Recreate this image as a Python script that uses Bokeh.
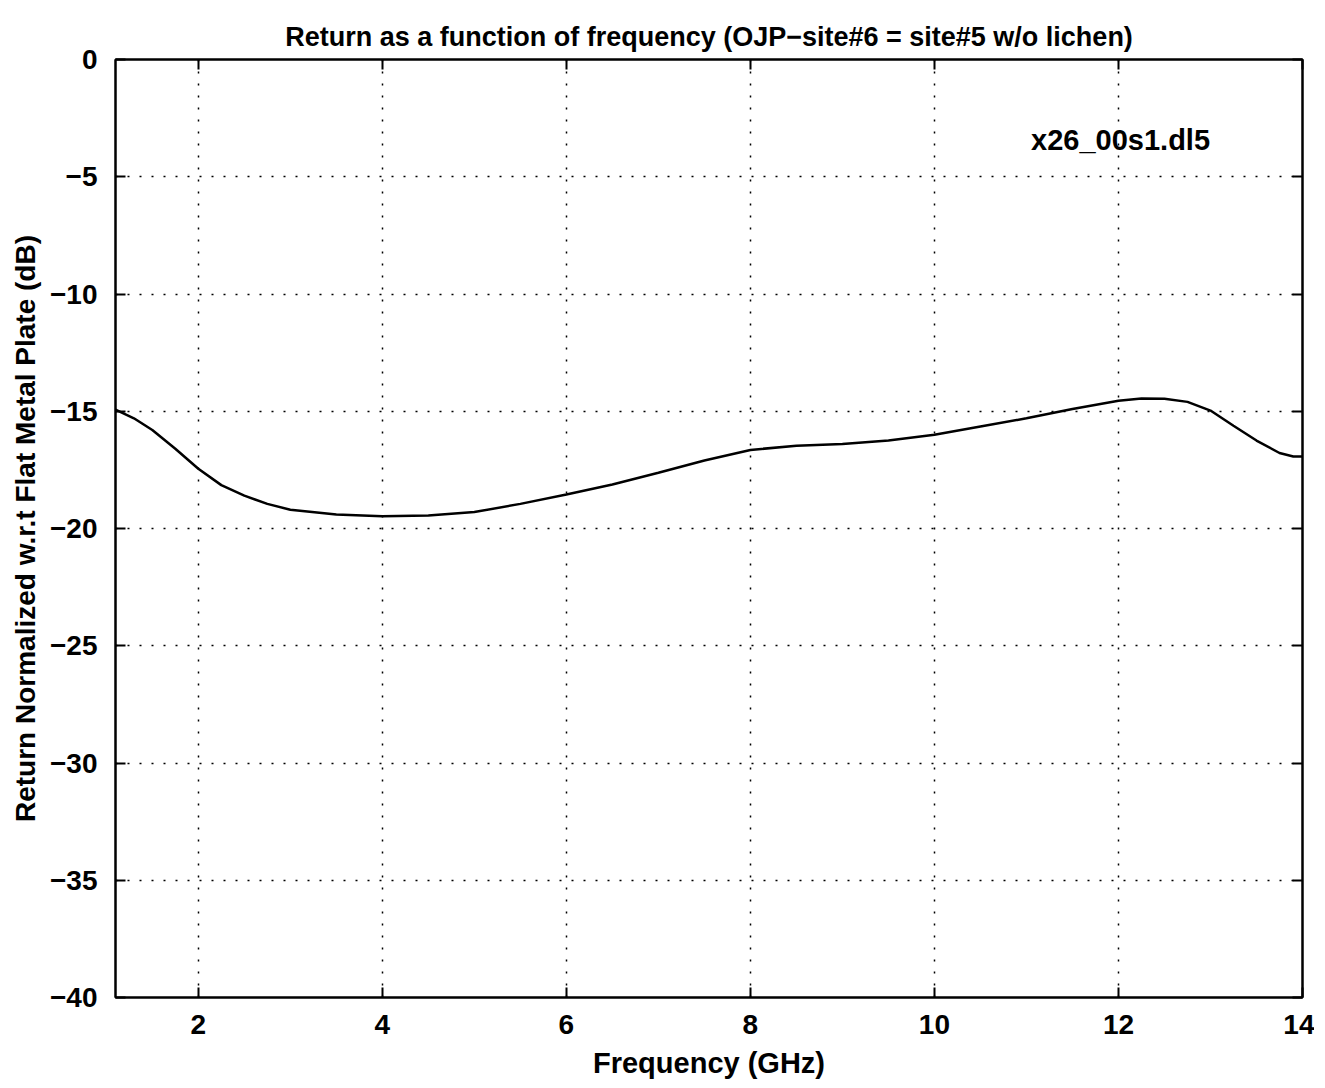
from bokeh.plotting import figure
from bokeh.models import LinearAxis, FixedTicker, Range1d, Label
from bokeh.embed import file_html
from bokeh.resources import INLINE

freq_ghz = [1.1, 1.3, 1.5, 1.75, 2.0, 2.25, 2.5, 2.75, 3.0, 3.5, 4.0, 4.5, 5.0, 5.5,
            6.0, 6.5, 7.0, 7.5, 8.0, 8.5, 9.0, 9.5, 10.0, 10.5, 11.0, 11.5, 12.0,
            12.25, 12.5, 12.75, 13.0, 13.25, 13.5, 13.75, 13.9, 14.0]
return_db = [-14.93, -15.3, -15.8, -16.6, -17.45, -18.15, -18.6, -18.95, -19.2, -19.4,
             -19.48, -19.45, -19.3, -18.95, -18.55, -18.12, -17.62, -17.1, -16.65,
             -16.47, -16.4, -16.25, -16.0, -15.65, -15.3, -14.9, -14.55, -14.46,
             -14.47, -14.6, -14.97, -15.62, -16.25, -16.78, -16.93, -16.93]

x_ticks = [2, 4, 6, 8, 10, 12, 14]
y_ticks = [0, -5, -10, -15, -20, -25, -30, -35, -40]
y_tick_labels = ["0", "\u22125", "\u221210", "\u221215", "\u221220", "\u221225",
                 "\u221230", "\u221235", "\u221240"]

title_text = "Return as a function of frequency (OJP\u2212site#6 = site#5 w/o lichen)"
x_label = "Frequency (GHz)"
y_label = "Return Normalized w.r.t Flat Metal Plate (dB)"
file_note = "x26_00s1.dl5"

FONT = "Liberation Sans"

p = figure(frame_width=1187, frame_height=938,
           x_range=Range1d(1.1, 14), y_range=Range1d(-40, 0),
           output_backend="svg", toolbar_location=None,
           min_border_left=115, min_border_right=12, min_border_top=59,
           min_border_bottom=88)
p.title.text = title_text
p.title.align = "center"
p.title.text_font = FONT
p.title.text_font_size = "27px"
p.title.text_font_style = "bold"
p.title.text_color = "black"
p.title.offset = 0
p.title.standoff = 15

p.outline_line_color = "black"
p.outline_line_width = 2

p.line(freq_ghz, return_db, line_color="black", line_width=2.5)

for ax in (p.xaxis[0], p.yaxis[0]):
    ax.axis_line_width = 2
    ax.major_tick_in = 10
    ax.major_tick_out = 0
    ax.minor_tick_in = 0
    ax.minor_tick_out = 0
    ax.major_label_text_font = FONT
    ax.major_label_text_font_size = "28px"
    ax.major_label_text_font_style = "bold"
    ax.major_label_text_color = "black"
    ax.axis_label_text_font = FONT
    ax.axis_label_text_font_style = "bold"
    ax.axis_label_text_color = "black"
    ax.major_tick_line_width = 2

p.xaxis[0].axis_label_text_font_size = "29px"
p.yaxis[0].axis_label_text_font_size = "28px"
p.xaxis[0].ticker = FixedTicker(ticks=x_ticks)
p.yaxis[0].ticker = FixedTicker(ticks=y_ticks)
p.yaxis[0].major_label_overrides = dict(zip(y_ticks, y_tick_labels))
p.xaxis[0].axis_label = x_label
p.yaxis[0].axis_label = y_label
p.xaxis[0].major_label_standoff = 17
p.yaxis[0].major_label_standoff = 18
p.xaxis[0].axis_label_standoff = 10
p.yaxis[0].axis_label_standoff = 6

top = LinearAxis(ticker=FixedTicker(ticks=x_ticks), major_label_text_font_size="0px",
                 major_tick_in=10, major_tick_out=0, minor_tick_in=0, minor_tick_out=0,
                 axis_line_width=2, major_tick_line_width=2)
right = LinearAxis(ticker=FixedTicker(ticks=y_ticks), major_label_text_font_size="0px",
                   major_tick_in=10, major_tick_out=0, minor_tick_in=0, minor_tick_out=0,
                   axis_line_width=2, major_tick_line_width=2)
p.add_layout(top, "above")
p.add_layout(right, "right")

p.xgrid.ticker = FixedTicker(ticks=x_ticks)
p.ygrid.ticker = FixedTicker(ticks=y_ticks)
for g in (p.xgrid[0], p.ygrid[0]):
    g.grid_line_color = "black"
    g.grid_line_dash = "2 10"
    g.grid_line_width = 1.5
    g.grid_line_alpha = 1.0

p.add_layout(Label(x=11.05, y=-3.45, text=file_note, text_font=FONT,
                   text_font_size="29px", text_font_style="bold", text_color="black",
                   text_baseline="middle", text_align="left"))

open("out.html", "w").write(file_html(p, INLINE))
